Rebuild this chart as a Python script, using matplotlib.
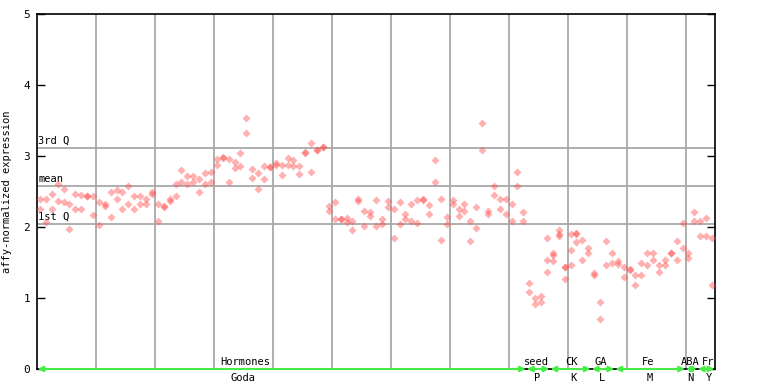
import numpy as np
import matplotlib
matplotlib.use("Agg")
import matplotlib.pyplot as plt

# two replicate values per sample (115 samples)
rep_a = [2.39, 2.39, 2.46, 2.60, 2.53, 2.33, 2.47, 2.45, 2.43, 2.44,
         2.35, 2.32, 2.49, 2.52, 2.50, 2.58, 2.44, 2.44, 2.40, 2.49,
         2.32, 2.30, 2.39, 2.61, 2.80, 2.72, 2.72, 2.68, 2.76, 2.77,
         2.96, 2.99, 2.96, 2.91, 3.04, 3.53, 2.81, 2.76, 2.86, 2.84,
         2.90, 2.87, 2.97, 2.94, 2.86, 3.06, 3.18, 3.09, 3.12, 2.30,
         2.35, 2.11, 2.12, 2.09, 2.40, 2.22, 2.21, 2.38, 2.11, 2.36,
         2.25, 2.35, 2.19, 2.33, 2.38, 2.40, 2.31, 2.95, 2.40, 2.14,
         2.38, 2.26, 2.32, 2.08, 2.28, 3.46, 2.23, 2.58, 2.39, 2.39,
         2.32, 2.78, 2.21, 1.21, 1.00, 1.03, 1.84, 1.64, 1.96, 1.43,
         1.90, 1.92, 1.82, 1.71, 1.35, 0.95, 1.80, 1.63, 1.52, 1.43,
         1.41, 1.32, 1.50, 1.64, 1.63, 1.47, 1.54, 1.64, 1.80, 2.06,
         1.64, 2.21, 2.09, 2.13, 1.85]
rep_b = [2.25, 2.07, 2.26, 2.36, 2.35, 1.97, 2.26, 2.26, 2.43, 2.17,
         2.03, 2.30, 2.14, 2.39, 2.26, 2.33, 2.25, 2.33, 2.33, 2.46,
         2.08, 2.28, 2.36, 2.44, 2.64, 2.60, 2.63, 2.49, 2.61, 2.64,
         2.87, 2.97, 2.64, 2.83, 2.86, 3.32, 2.69, 2.54, 2.68, 2.84,
         2.87, 2.73, 2.87, 2.86, 2.74, 3.04, 2.77, 3.09, 3.12, 2.22,
         2.11, 2.11, 2.07, 1.96, 2.37, 2.02, 2.15, 2.01, 2.04, 2.28,
         1.85, 2.04, 2.11, 2.08, 2.05, 2.38, 2.19, 2.63, 1.81, 2.04,
         2.32, 2.16, 2.23, 1.80, 1.98, 3.08, 2.18, 2.45, 2.25, 2.18,
         2.08, 2.58, 2.09, 1.08, 0.91, 0.94, 1.36, 1.60, 1.90, 1.43,
         1.68, 1.90, 1.54, 1.63, 1.32, 0.70, 1.46, 1.49, 1.48, 1.30,
         1.39, 1.18, 1.32, 1.46, 1.54, 1.36, 1.46, 1.64, 1.54, 1.71,
         1.56, 2.09, 1.88, 1.87, 1.18]
# third replicate where present
rep_c_idx = [86, 87, 88, 89, 90, 91]
rep_c = [1.54, 1.52, 1.87, 1.27, 1.47, 1.79]

q1, q_mean, q3 = 2.04, 2.58, 3.11

# experiment groups: (first sample, last sample, top label, bottom label)
grp_start = [0, 83, 87, 94, 98, 110, 112]
grp_end = [82, 86, 93, 97, 109, 111, 114]
grp_top = ["Hormones", "seed", "CK", "GA", "Fe", "ABA", "Fr"]
grp_bot = ["Goda", "P", "K", "L", "M", "N", "Y"]
top_pos = [35.3, 84.7, 90.7, 95.6, 103.6, 110.8, 113.8]
bot_pos = [34.9, 84.9, 91.0, 95.9, 103.9, 110.8, 113.9]

n = len(rep_a)
x = np.arange(n) + 0.5
mono = "DejaVu Sans Mono"

fig = plt.figure(figsize=(7.68, 3.84), dpi=100)
ax = fig.add_axes([37/768, 15/384, 678/768, 355/384])

for gx in range(10, n, 10):
    ax.axvline(gx, color="#a8a8a8", lw=1.3, zorder=1)
for q in (q1, q_mean, q3):
    ax.axhline(q, color="#a8a8a8", lw=1.3, zorder=1)

ax.text(0.2, q3 + 0.03, "3rd Q", family=mono, fontsize=7.5, va="bottom", ha="left")
ax.text(0.2, q_mean + 0.03, "mean", family=mono, fontsize=7.5, va="bottom", ha="left")
ax.text(0.2, q1 + 0.03, "1st Q", family=mono, fontsize=7.5, va="bottom", ha="left")

kw = dict(marker="D", ms=4.0, ls="none", color="#ff5050", alpha=0.45, mec="none", zorder=3)
ax.plot(x, rep_a, **kw)
ax.plot(x, rep_b, **kw)
ax.plot(np.array(rep_c_idx) + 0.5, rep_c, **kw)

for s, e in zip(grp_start, grp_end):
    ax.annotate("", xy=(s + 0.1, 0), xytext=(e + 0.9, 0),
                arrowprops=dict(arrowstyle="<|-|>", color="#44ee44", lw=1.5,
                                mutation_scale=8, shrinkA=0, shrinkB=0),
                annotation_clip=False, zorder=5)
for t, p in zip(grp_top, top_pos):
    ax.text(p, 0.03, t, family=mono, fontsize=7.5, ha="center", va="bottom")
for t, p in zip(grp_bot, bot_pos):
    ax.text(p, -0.06, t, family=mono, fontsize=7.5, ha="center", va="top")

ax.set_xlim(0, n)
ax.set_ylim(0, 5)
ax.set_xticks([])
ax.set_yticks(range(6))
ax.tick_params(axis="y", direction="in", length=6, width=1, right=True,
               labelsize=8, pad=5)
for lab in ax.get_yticklabels():
    lab.set_family(mono)
ax.set_ylabel("affy-normalized expression", family=mono, fontsize=7.5, labelpad=8)
for sp in ax.spines.values():
    sp.set_linewidth(1.2)

fig.savefig("out.png", dpi=100)
